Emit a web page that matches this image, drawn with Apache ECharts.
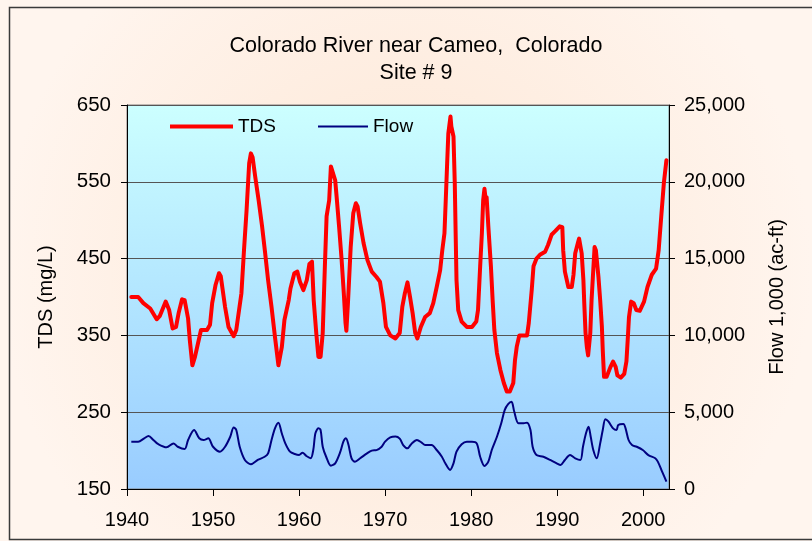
<!DOCTYPE html>
<html>
<head>
<meta charset="utf-8">
<script src="https://cdn.jsdelivr.net/npm/echarts@6/dist/echarts.min.js"></script>
<style>
html,body{margin:0;padding:0;background:#fdeadb;}
#chart{width:812px;height:541px;}
</style>
</head>
<body>
<div id="chart"></div>
<script>
// ---- data ----
var xTicks = [1940, 1950, 1960, 1970, 1980, 1990, 2000];
var tdsYears = [1940.5,1941.3,1941.9,1942.7,1943.45,1943.8,1944.5,1944.9,1945.3,1945.7,1946.0,1946.4,1946.7,1947.1,1947.3,1947.6,1947.9,1948.6,1949.3,1949.65,1949.9,1950.3,1950.7,1950.9,1951.4,1951.8,1952.4,1952.7,1953.3,1953.6,1953.9,1954.2,1954.4,1954.6,1954.9,1955.3,1955.7,1956.05,1956.4,1956.8,1957.2,1957.6,1958.0,1958.3,1958.8,1959.0,1959.45,1959.8,1960.1,1960.5,1960.9,1961.2,1961.5,1961.7,1962.0,1962.25,1962.5,1962.75,1963.0,1963.2,1963.5,1963.7,1963.9,1964.2,1964.4,1964.65,1964.95,1965.2,1965.4,1965.5,1965.7,1966.0,1966.3,1966.6,1966.8,1967.1,1967.5,1967.95,1968.45,1969.0,1969.4,1969.8,1970.1,1970.6,1971.2,1971.7,1972.0,1972.3,1972.6,1972.9,1973.2,1973.5,1973.75,1974.15,1974.65,1975.2,1975.6,1976.0,1976.4,1976.65,1976.9,1977.05,1977.2,1977.35,1977.6,1977.7,1977.95,1978.1,1978.2,1978.3,1978.5,1978.9,1979.5,1980.1,1980.6,1980.8,1981.05,1981.25,1981.4,1981.55,1981.7,1981.8,1982.0,1982.3,1982.5,1982.7,1983.0,1983.4,1983.8,1984.15,1984.5,1984.9,1985.1,1985.3,1985.6,1986.5,1986.7,1987.05,1987.25,1987.6,1988.0,1988.6,1988.95,1989.35,1989.8,1990.3,1990.6,1990.7,1990.9,1991.3,1991.7,1991.9,1992.1,1992.4,1992.55,1992.7,1992.85,1993.05,1993.15,1993.3,1993.45,1993.6,1993.85,1994.0,1994.15,1994.35,1994.5,1994.8,1995.0,1995.2,1995.3,1995.45,1995.75,1996.2,1996.5,1996.8,1997.0,1997.4,1997.8,1998.05,1998.2,1998.35,1998.6,1998.9,1999.2,1999.6,2000.1,2000.5,2001.0,2001.5,2001.8,2002.1,2002.4,2002.7];
var tdsValues = [400,400,392,385,371,375,394,383,359,361,379,397,396,372,344,311,322,357,357,364,392,416,431,427,387,361,349,357,405,461,513,574,587,582,557,526,492,458,422,387,348,311,335,370,396,411,431,433,420,409,422,443,446,396,353,322,322,353,440,505,526,570,570,552,526,492,448,405,366,356,396,465,509,522,518,496,470,448,433,426,420,392,361,350,346,353,387,405,419,400,379,353,346,361,374,379,392,413,435,461,483,526,570,613,635,622,609,548,483,422,383,368,361,361,368,383,440,483,526,541,526,530,492,440,396,357,327,305,288,277,277,288,318,335,350,350,366,410,440,450,455,459,468,481,486,492,491,461,433,413,413,429,457,470,476,474,457,422,392,353,335,324,353,396,426,465,461,426,396,361,331,296,296,309,316,309,298,295,300,316,344,374,394,392,383,382,394,413,429,437,461,505,548,578];
var flowYears = [1940.5,1941.3,1942.0,1942.5,1943.1,1943.6,1944.6,1945.4,1945.9,1946.7,1947.1,1947.8,1948.4,1948.9,1949.45,1950.0,1950.8,1951.4,1952.0,1952.4,1952.7,1953.1,1953.7,1954.4,1955.2,1956.0,1956.4,1956.8,1957.2,1957.6,1958.0,1958.4,1958.95,1959.5,1960.0,1960.4,1960.85,1961.35,1961.65,1961.9,1962.25,1962.5,1962.75,1963.15,1963.7,1964.2,1964.8,1965.15,1965.45,1965.75,1966.1,1966.5,1967.1,1967.9,1968.45,1969.0,1969.6,1970.0,1970.6,1971.2,1971.7,1972.1,1972.6,1973.1,1973.7,1974.25,1974.65,1975.4,1976.0,1976.6,1977.0,1977.55,1977.95,1978.3,1978.9,1979.5,1980.1,1980.65,1981.05,1981.55,1982.0,1982.4,1983.0,1983.5,1983.9,1984.3,1984.7,1985.0,1985.5,1986.1,1986.5,1986.9,1987.15,1987.6,1988.4,1989.2,1989.95,1990.4,1990.9,1991.5,1992.1,1992.7,1993.0,1993.35,1993.65,1993.9,1994.2,1994.6,1995.0,1995.3,1995.6,1995.95,1996.5,1996.9,1997.1,1997.7,1997.95,1998.3,1998.7,1999.25,1999.95,2000.6,2001.4,2001.7,2002.2,2002.7];
var flowValues = [3080,3080,3300,3450,3170,2930,2710,2970,2750,2600,3190,3840,3300,3190,3300,2750,2430,2750,3400,4010,3840,2750,1890,1610,1890,2100,2320,3190,3950,4320,3610,2970,2430,2280,2220,2360,2150,2000,2530,3630,3950,3840,2750,2100,1520,1670,2430,3080,3300,2860,2000,1780,2000,2320,2500,2530,2750,3080,3360,3420,3280,2860,2650,2970,3190,3020,2860,2860,2540,2100,1670,1240,1670,2430,2910,3080,3080,2970,2100,1500,1780,2540,3400,4280,5140,5530,5680,5060,4280,4280,4320,3840,2750,2210,2100,1890,1670,1560,1890,2210,2000,1890,2750,3630,4060,3400,2540,2000,2970,3840,4540,4400,3950,3840,4170,4230,3950,3190,2860,2750,2540,2210,2000,1780,1130,480];

function pairs(xs, ys){ var out=[]; for(var i=0;i<xs.length;i++){ out.push([xs[i], ys[i]]); } return out; }

var FONT = 'Liberation Sans, Arial, sans-serif';
var chart = echarts.init(document.getElementById('chart'));
chart.setOption({
  animation: false,
  backgroundColor: {
    type: 'radial', x: 0.5, y: 0.5, r: 0.75,
    colorStops: [{offset: 0, color: '#fde6d4'}, {offset: 1, color: '#fff5ee'}]
  },
  textStyle: {fontFamily: FONT},
  graphic: [{
    type: 'rect', left: 7, top: 5, z: 100,
    shape: {width: 830, height: 532},
    style: {fill: 'none', stroke: '#3a3a3a', lineWidth: 1.5}
  }],
  title: {
    text: 'Colorado River near Cameo,  Colorado\nSite # 9',
    left: 411, top: 28, textAlign: 'center',
    textStyle: {fontSize: 21.5, fontWeight: 'normal', color: '#000', lineHeight: 27, fontFamily: FONT}
  },
  legend: [{
    left: 165, top: 112,
    itemWidth: 63, itemHeight: 4, icon: 'rect',
    textStyle: {fontSize: 19, color: '#000', fontFamily: FONT},
    data: ['TDS']
  }, {
    left: 313, top: 112,
    itemWidth: 50, itemHeight: 2, icon: 'rect',
    textStyle: {fontSize: 19, color: '#000', fontFamily: FONT},
    data: ['Flow']
  }],
  grid: {
    left: 127, right: 143, top: 105, bottom: 52,
    show: true, borderColor: '#808080', borderWidth: 1,
    backgroundColor: {
      type: 'linear', x: 0, y: 0, x2: 0, y2: 1,
      colorStops: [{offset: 0, color: '#ccffff'}, {offset: 1, color: '#99ccff'}]
    }
  },
  xAxis: {
    type: 'value', min: 1940, max: 2003,
    axisLine: {show: true, lineStyle: {color: '#000', width: 1}},
    axisTick: {show: true, customValues: xTicks, length: 7, lineStyle: {color: '#000'}},
    axisLabel: {customValues: xTicks, fontSize: 20, color: '#000', margin: 21, fontFamily: FONT,
      formatter: function (v) { return String(v); }},
    splitLine: {show: false}
  },
  yAxis: [{
    type: 'value', min: 150, max: 650, interval: 100, position: 'left',
    name: 'TDS (mg/L)', nameLocation: 'middle', nameGap: 71, nameRotate: 90,
    nameTextStyle: {fontSize: 20, color: '#000', fontFamily: FONT},
    axisLine: {show: true, lineStyle: {color: '#000', width: 1}},
    axisTick: {show: true, length: 6, lineStyle: {color: '#000'}},
    axisLabel: {fontSize: 20.5, color: '#000', margin: 16, fontFamily: FONT},
    splitLine: {show: true, lineStyle: {color: '#000', width: 1}}
  }, {
    type: 'value', min: 0, max: 25000, interval: 5000, position: 'right',
    name: 'Flow 1,000 (ac-ft)', nameLocation: 'middle', nameGap: 98, nameRotate: 90,
    nameTextStyle: {fontSize: 20, color: '#000', fontFamily: FONT},
    axisLine: {show: true, lineStyle: {color: '#000', width: 1}},
    axisTick: {show: true, length: 6, lineStyle: {color: '#000'}},
    axisLabel: {fontSize: 20, color: '#000', margin: 15, fontFamily: FONT},
    splitLine: {show: true, lineStyle: {color: '#555', width: 1}}
  }],
  series: [{
    name: 'TDS', type: 'line', yAxisIndex: 0,
    data: pairs(tdsYears, tdsValues),
    showSymbol: false, symbol: 'none',
    lineStyle: {color: '#ff0000', width: 4, join: 'round', cap: 'round'},
    itemStyle: {color: '#ff0000'},
    z: 3
  }, {
    name: 'Flow', type: 'line', yAxisIndex: 1,
    data: pairs(flowYears, flowValues),
    showSymbol: false, symbol: 'none', smooth: 0.3,
    lineStyle: {color: '#000080', width: 2},
    itemStyle: {color: '#000080'},
    z: 2
  }]
});
</script>
</body>
</html>
